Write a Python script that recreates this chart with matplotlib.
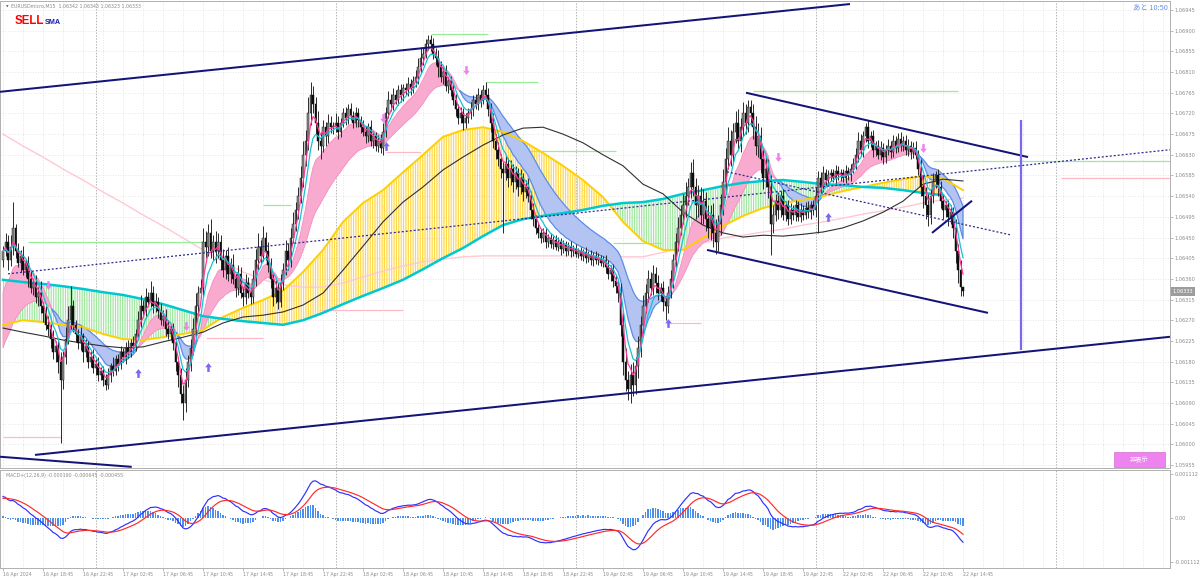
import numpy as np
import matplotlib
matplotlib.use("Agg")
import matplotlib.pyplot as plt
import matplotlib.transforms as mtransforms
from matplotlib.patches import Rectangle

plt.rcParams['hatch.linewidth'] = 0.9

# ---------------- data (prices in points: price = BASE + pts * 1e-5) ----------------
BASE = 1.06
PT = 1e-5

CLOSE_PTS = [
    420, 440, 400, 430, 470, 420, 395, 410, 380, 395, 360, 340, 350, 320, 330, 300, 285, 260, 250, 230,
    200, 215, 180, 140, 190, 230, 270, 300, 260, 240, 220, 235, 200, 215, 180, 190, 165, 175, 150, 160,
    140, 130, 150, 170, 160, 185, 175, 200, 190, 210, 200, 220, 215, 240, 270, 300, 290, 320, 310, 330,
    300, 310, 290, 270, 280, 250, 240, 250, 220, 180, 150, 110, 90, 140, 180, 210, 250, 300, 330, 340,
    440, 430, 460, 420, 440, 420, 440, 400, 380, 410, 370, 390, 360, 340, 370, 330, 320, 350, 330, 320,
    360, 400, 430, 410, 450, 420, 390, 360, 320, 340, 310, 350, 380, 420, 400, 450, 480, 510, 540, 580,
    630, 660, 720, 760, 740, 700, 660, 650, 690, 670, 700, 690, 690, 700, 680, 700, 720, 710, 730, 715,
    700, 720, 705, 690, 680, 670, 690, 660, 670, 650, 660, 645, 680, 720, 750, 740, 760, 750, 770, 760,
    775, 770, 785, 775, 790, 800, 820, 840, 850, 870, 880, 870, 850, 840, 820, 800, 810, 780, 790, 770,
    750, 730, 710, 720, 700, 710, 720, 730, 750, 740, 760, 750, 770, 760, 730, 700, 660, 640, 620, 600,
    590, 610, 580, 600, 570, 590, 560, 580, 550, 560, 540, 510, 490, 470, 460, 450, 460, 440, 450, 435,
    445, 430, 440, 425, 435, 420, 430, 420, 425, 415, 420, 410, 418, 405, 412, 400, 410, 400, 405, 395,
    400, 385, 370, 380, 355, 345, 330, 260, 180, 140, 120, 150, 130, 170, 210, 260, 300, 330, 360, 340,
    370, 350, 330, 340, 310, 300, 330, 360, 400, 440, 470, 500, 520, 540, 560, 590, 560, 520, 540, 500,
    530, 490, 470, 500, 460, 440, 480, 520, 570, 620, 660, 630, 680, 700, 660, 690, 720, 700, 735, 720,
    690, 650, 670, 620, 580, 600, 560, 480, 500, 530, 510, 540, 500, 520, 490, 510, 500, 520, 495, 510,
    500, 515, 505, 520, 510, 540, 580, 560, 590, 575, 585, 590, 580, 595, 585, 590, 580, 595, 585, 600,
    610, 630, 660, 640, 670, 690, 660, 670, 640, 650, 630, 645, 625, 640, 650, 635, 660, 645, 665, 650,
    660, 640, 650, 635, 645, 630, 600, 560, 540, 520, 500, 540, 570, 585, 560, 530, 510, 520, 495, 505,
    470, 420, 380, 342, 333]
OPEN0_PTS = 400

UP_WICK = [
    12, 20, 15, 25, 57, 10, 18, 12, 22, 8, 15, 20, 10, 18, 12, 25, 10, 15, 20, 12,
    18, 10, 15, 20, 12, 25, 30, 45, 15, 10, 12, 20, 8, 15, 10, 12, 18, 10, 15, 8,
    10, 12, 15, 8, 20, 10, 12, 15, 10, 12, 18, 10, 15, 12, 20, 25, 15, 20, 12, 25,
    15, 20, 10, 18, 12, 15, 20, 10, 15, 12, 10, 15, 20, 25, 15, 20, 25, 30, 15, 20,
    30, 25, 20, 30, 15, 25, 20, 15, 25, 12, 20, 15, 25, 10, 20, 15, 12, 20, 15, 10,
    20, 25, 30, 15, 25, 12, 20, 15, 10, 18, 12, 20, 15, 25, 18, 20, 25, 18, 20, 25,
    30, 25, 35, 28, 20, 15, 25, 20, 15, 12, 18, 15, 12, 20, 15, 10, 12, 15, 10, 12,
    10, 15, 12, 10, 15, 12, 10, 15, 12, 10, 12, 15, 20, 15, 18, 12, 15, 10, 12, 15,
    10, 12, 15, 10, 12, 15, 20, 25, 15, 12, 10, 11, 15, 12, 18, 15, 12, 15, 10, 12,
    15, 12, 10, 15, 12, 10, 12, 15, 10, 12, 15, 10, 12, 18, 15, 12, 20, 15, 18, 12,
    15, 20, 12, 18, 10, 15, 12, 18, 10, 15, 20, 12, 15, 10, 12, 8, 10, 12, 8, 10,
    8, 10, 12, 8, 10, 8, 10, 12, 8, 10, 8, 10, 8, 12, 8, 10, 8, 10, 12, 8,
    10, 12, 15, 10, 12, 15, 10, 20, 25, 30, 20, 25, 30, 20, 25, 20, 25, 18, 20, 15,
    20, 15, 18, 12, 15, 10, 15, 20, 15, 20, 25, 20, 25, 30, 20, 25, 30, 20, 25, 20,
    25, 20, 30, 20, 25, 30, 20, 25, 30, 25, 30, 25, 20, 25, 30, 20, 25, 20, 14, 15,
    20, 25, 30, 20, 25, 30, 20, 25, 20, 15, 20, 12, 15, 10, 12, 15, 10, 12, 10, 15,
    10, 12, 15, 10, 12, 20, 15, 12, 15, 10, 12, 10, 8, 12, 10, 8, 10, 12, 8, 10,
    12, 15, 20, 15, 12, 9, 15, 12, 15, 10, 12, 15, 10, 12, 15, 10, 12, 10, 12, 15,
    10, 12, 15, 10, 12, 15, 10, 20, 25, 20, 25, 15, 20, 10, 15, 12, 15, 10, 12, 15,
    12, 20, 15, 20, 1]

DN_WICK = [
    15, 10, 20, 12, 18, 15, 10, 20, 12, 15, 18, 10, 15, 12, 20, 15, 18, 12, 15, 20,
    15, 20, 25, 137, 20, 15, 12, 20, 15, 18, 12, 15, 20, 10, 15, 12, 10, 15, 12, 10,
    12, 12, 10, 15, 12, 10, 15, 12, 10, 15, 12, 10, 15, 12, 10, 15, 12, 15, 10, 12,
    15, 12, 15, 10, 12, 15, 10, 12, 15, 20, 25, 20, 37, 20, 15, 20, 15, 20, 15, 12,
    20, 25, 20, 15, 20, 25, 15, 20, 15, 20, 15, 20, 12, 20, 15, 12, 20, 15, 12, 15,
    12, 15, 20, 15, 12, 20, 15, 20, 18, 12, 15, 12, 15, 12, 20, 15, 12, 15, 20, 15,
    20, 25, 20, 25, 20, 25, 20, 30, 15, 20, 15, 12, 15, 10, 15, 12, 10, 15, 12, 10,
    12, 10, 15, 12, 10, 15, 12, 10, 15, 12, 14, 12, 15, 12, 10, 15, 12, 10, 12, 15,
    12, 10, 12, 15, 10, 12, 15, 12, 15, 10, 12, 15, 12, 15, 20, 12, 15, 12, 15, 12,
    12, 15, 12, 10, 15, 12, 10, 12, 15, 10, 12, 15, 10, 12, 15, 20, 15, 20, 15, 20,
    130, 15, 20, 15, 20, 15, 20, 15, 20, 15, 12, 20, 15, 12, 10, 12, 10, 12, 10, 8,
    10, 8, 10, 12, 8, 10, 8, 12, 10, 8, 10, 8, 12, 10, 8, 10, 12, 8, 10, 8,
    10, 12, 10, 15, 12, 15, 20, 25, 30, 25, 24, 30, 25, 20, 25, 20, 18, 15, 20, 15,
    15, 20, 15, 18, 20, 29, 15, 12, 20, 15, 20, 15, 20, 25, 20, 25, 20, 30, 25, 20,
    20, 25, 20, 25, 30, 25, 20, 25, 20, 25, 20, 25, 20, 25, 20, 25, 20, 25, 20, 25,
    25, 20, 25, 30, 25, 20, 25, 68, 20, 15, 20, 15, 12, 15, 12, 10, 12, 15, 10, 12,
    12, 10, 12, 15, 12, 15, 80, 12, 10, 12, 10, 12, 10, 12, 10, 12, 10, 12, 10, 12,
    10, 12, 15, 12, 15, 12, 15, 12, 15, 12, 10, 12, 15, 12, 10, 12, 10, 12, 10, 12,
    12, 10, 12, 15, 12, 10, 15, 20, 25, 30, 25, 20, 15, 12, 20, 15, 20, 15, 20, 15,
    20, 25, 30, 20, 10]

# slow moving averages every 8 bars
SAMPLE_BARS = list(range(0, 385, 8))
YELLOW_PTS = [260, 270, 266, 260, 255, 240, 229, 227, 233, 240, 249, 277, 297, 314, 334, 375, 423, 484,
              525, 553, 592, 630, 669, 684, 690, 680, 660, 634, 606, 575, 538, 484, 442, 423, 423, 449,
              475, 497, 514, 525, 532, 540, 551, 560, 569, 577, 584, 579, 553]
CYAN_PTS = [358, 353, 349, 344, 338, 331, 325, 316, 305, 292, 279, 273, 268, 264, 260, 270, 286, 305,
            323, 340, 358, 381, 405, 427, 453, 477, 490, 497, 503, 510, 519, 525, 527, 534, 545, 553,
            562, 569, 573, 575, 571, 566, 564, 560, 558, 553, 547, 542, np.nan]
BLACK_PTS = [253, 244, 236, 227, 220, 214, 210, 212, 223, 233, 244, 264, 277, 281, 288, 303, 329, 379,
             431, 484, 527, 560, 597, 625, 651, 673, 688, 690, 675, 656, 630, 606, 566, 545, 505, 477,
             460, 451, 455, 453, 457, 462, 471, 486, 505, 529, 566, 577, 573]
LONG_PTS = [675, 649, 625, 599, 575, 549, 525, 499, 475, 449, 423, 397, 375, 358, 347, 342, 342, 351,
            364, 377, 388, 397, 403, 408, 410, 410, 410, 410, 410, 410, 410, 408, 408, 418, 427, 438,
            449, 455, 462, 468, 477, 484, 492, 501, 508, 516, 525, 532, 536]

RIBBON_SEED_PTS = (330, 210)
MACD_SEED = (0.00055, 0.00050)

# drawn objects: (bar, pts)
CH_UP_UPPER = [(-1.2, 767), (338.8, 958)]
CH_UP_LOWER = [(12.8, -23), (466.8, 234)]
CH_UP_MID = [(2.0, 371), (466.8, 641)]
OLD_LINE = [(-1.2, -27), (51.5, -49)]
CH_DN_UPPER = [(297.2, 765), (410.0, 625)]
CH_DN_LOWER = [(281.6, 423), (394.0, 286)]
CH_DN_MID = [(289.6, 593), (402.8, 456)]
SMALL_LINE = [(371.6, 460), (387.6, 530)]
VLINE = (407, 205, 706)

GREEN_SEGS = [(10, 82, 440), (104, 115, 521), (171, 194, 893), (193, 214, 789),
              (206, 245, 638), (244, 263, 438), (300, 382, 769), (372, 467, 617)]
PINK_SEGS = [(0, 23, 16), (81, 104, 231), (127, 160, 292), (153, 167, 636),
             (266, 279, 264), (423, 467, 580)]

UP_ARROWS = [(54, 155), (82, 168), (153, 649), (266, 264), (330, 495)]
DN_ARROWS = [(18, 347), (73, 258), (152, 710), (185, 815), (310, 625), (368, 645)]

XLABEL_BARS = list(range(0, 385, 16))
XLABELS = ["16 Apr 2024", "16 Apr 18:45", "16 Apr 22:45", "17 Apr 02:45", "17 Apr 06:45",
           "17 Apr 10:45", "17 Apr 14:45", "17 Apr 18:45", "17 Apr 22:45", "18 Apr 02:45",
           "18 Apr 06:45", "18 Apr 10:45", "18 Apr 14:45", "18 Apr 18:45", "18 Apr 22:45",
           "19 Apr 02:45", "19 Apr 06:45", "19 Apr 10:45", "19 Apr 14:45", "19 Apr 18:45",
           "19 Apr 22:45", "22 Apr 02:45", "22 Apr 06:45", "22 Apr 10:45", "22 Apr 14:45"]
DAY_SEP_BARS = [37, 133, 229, 325, 421]
PRICE_TICKS = [1.06945, 1.06900, 1.06855, 1.06810, 1.06765, 1.06720, 1.06675, 1.06630, 1.06585,
               1.06540, 1.06495, 1.06450, 1.06405, 1.06360, 1.06315, 1.06270, 1.06225, 1.06180,
               1.06135, 1.06090, 1.06045, 1.06000, 1.05955]
MACD_TICKS = [0.001112, 0.0, -0.001112]
MACD_TICKLABELS = ["0.001112", "0.00", "-0.001112"]

HEADER = "EURUSDmicro,M15  1.06342 1.06343 1.06323 1.06333"
MACD_HEADER = "MACD+(12,26,9) -0.000190 -0.000645 -0.000455"
LAST_PRICE = "1.06333"

# ---------------- helpers ----------------
def P(v):
    return BASE + np.asarray(v, dtype=float) * PT

def ema(values, period, seed):
    a = 2.0 / (period + 1)
    out = np.empty(len(values))
    e = seed
    for i, v in enumerate(values):
        if i > 0:
            e = e + a * (v - e)
        out[i] = e
    return out

W, H = 1200, 578
def rect(x0, y0, x1, y1):
    return [x0 / W, 1 - y1 / H, (x1 - x0) / W, (y1 - y0) / H]

GRID = '#dedede'
TXT = '#8a8a8a'

fig = plt.figure(figsize=(12, 5.78), dpi=100, facecolor='white')
ax = fig.add_axes(rect(0, 1, 1170, 468))
axm = fig.add_axes(rect(0, 470, 1170, 568), sharex=ax)

c = P(CLOSE_PTS)
o = np.empty_like(c)
o[0] = P(OPEN0_PTS)
o[1:] = c[:-1]
hi = np.maximum(o, c) + np.array(UP_WICK) * PT
lo = np.minimum(o, c) - np.array(DN_WICK) * PT
bars = np.arange(len(c))
bull = c >= o

# ---------------- main panel ----------------
sx = np.array(SAMPLE_BARS)
yel = P(YELLOW_PTS)
cya = P(CYAN_PTS)
blk = P(BLACK_PTS)
lng = P(LONG_PTS)

ax.fill_between(sx, yel, cya, where=yel >= cya, interpolate=True, facecolor='none',
                edgecolor='#FFD84A', hatch='|' * 7, lw=0, zorder=1)
ax.fill_between(sx, yel, cya, where=yel < cya, interpolate=True, facecolor='none',
                edgecolor='#A2E6A2', hatch='|' * 7, lw=0, zorder=1)
ax.plot(sx, lng, color='#FFC8D2', lw=1.0, zorder=2)

rf = ema(c, 12, P(RIBBON_SEED_PTS[0]))
rs = ema(c, 30, P(RIBBON_SEED_PTS[1]))
ax.fill_between(bars, rf, rs, where=rf >= rs, interpolate=True, facecolor='#F9AACF',
                edgecolor='#F48DC0', lw=0.6, zorder=2.5)
ax.fill_between(bars, rf, rs, where=rf < rs, interpolate=True, facecolor='#B3C3F2',
                edgecolor='#5B8DE8', lw=0.9, zorder=2.5)

ax.plot(sx, yel, color='#FFD000', lw=1.4, zorder=3)
ax.plot(sx, cya, color='#00C8D0', lw=1.8, zorder=3)
ax.plot(sx, blk, color='#303030', lw=0.8, zorder=3)

# candles
ax.vlines(bars, lo, hi, color='#2a2a2a', lw=0.7, zorder=4)
bh = np.maximum(np.abs(c - o), 2 * PT)
bb = np.minimum(o, c)
ax.bar(bars[bull], bh[bull], bottom=bb[bull], width=0.74, color='#8e8e8e',
       edgecolor='#1a1a1a', lw=0.35, zorder=5)
ax.bar(bars[~bull], bh[~bull], bottom=bb[~bull], width=0.74, color='#0d0d0d',
       edgecolor='#0d0d0d', lw=0.35, zorder=5)

# fast lines
ax.plot(bars, ema(c, 4, c[0]), color='#FF3C9A', lw=0.9, zorder=7)
ax.plot(bars, ema(c, 7, c[0]), color='#16C2D4', lw=0.9, zorder=7)

# trendlines
def tl(seg, **kw):
    (b0, p0), (b1, p1) = seg
    ax.plot([b0, b1], [P(p0), P(p1)], solid_capstyle='butt', **kw)

navy = dict(color='#141478', lw=1.45, zorder=8)
for seg in (CH_UP_UPPER, CH_UP_LOWER, OLD_LINE, CH_DN_UPPER, CH_DN_LOWER, SMALL_LINE):
    tl(seg, **navy)
for seg in (CH_UP_MID, CH_DN_MID):
    tl(seg, color='#2c2c90', lw=0.9, ls=(0, (1.6, 1.6)), zorder=8)
ax.vlines(VLINE[0], P(VLINE[1]), P(VLINE[2]), color='#7B68EE', lw=1.6, zorder=8)

for b0, b1, p in GREEN_SEGS:
    ax.hlines(P(p), b0, b1, color='#98EE98', lw=0.9, zorder=2)
for b0, b1, p in PINK_SEGS:
    ax.hlines(P(p), b0, b1, color='#FFB8C6', lw=0.9, zorder=2)

up_marker = [(-0.28, -1), (0.28, -1), (0.28, 0.05), (0.75, 0.05), (0, 1), (-0.75, 0.05), (-0.28, 0.05)]
dn_marker = [(x, -y) for x, y in up_marker]
ax.scatter([b for b, _ in UP_ARROWS], [P(p) for _, p in UP_ARROWS], marker=up_marker,
           s=40, color='#7B68EE', linewidths=0, zorder=9)
ax.scatter([b for b, _ in DN_ARROWS], [P(p) for _, p in DN_ARROWS], marker=dn_marker,
           s=40, color='#EE82EE', linewidths=0, zorder=9)

# axes styling
ax.set_xlim(-1.2, 466.8)
ax.set_ylim(1.059485, 1.069646)
ax.yaxis.tick_right()
ax.set_yticks(PRICE_TICKS)
ax.set_yticklabels([f"{p:.5f}" for p in PRICE_TICKS])
ax.tick_params(axis='y', length=2, width=0.5, color='#a0a0a0', pad=1.5,
               labelsize=3.6, labelcolor=TXT)
ax.tick_params(axis='x', which='both', bottom=False, labelbottom=False)
ax.grid(axis='y', color=GRID, ls=(0, (1, 2)), lw=0.6)

axm.set_xticks(XLABEL_BARS)
axm.set_xticklabels(XLABELS)
axm.set_xticks(list(range(0, 467, 8)), minor=True)
for a in (ax, axm):
    a.grid(axis='x', which='both', color=GRID, ls=(0, (1, 2)), lw=0.6)
    for b in DAY_SEP_BARS:
        a.axvline(b, color='#b4b4b4', ls=(0, (1.5, 1.5)), lw=0.7, zorder=0.5)
    for s in a.spines.values():
        s.set_color('#b0b0b0')
        s.set_linewidth(0.7)
    a.set_axisbelow(True)

# ---------------- MACD panel ----------------
e12 = ema(c, 12, c[0])
e26 = ema(c, 26, c[0] - MACD_SEED[0])
macd = e12 - e26
sig = ema(macd, 9, MACD_SEED[1])
hist = macd - sig
axm.bar(bars, hist, width=0.5, color='#4C8FEA', zorder=2)
axm.plot(bars, macd, color='#3030FF', lw=0.85, zorder=3)
axm.plot(bars, sig, color='#FF2A2A', lw=0.85, zorder=3)
axm.set_ylim(-0.001278, 0.001227)
axm.yaxis.tick_right()
axm.set_yticks(MACD_TICKS)
axm.set_yticklabels(MACD_TICKLABELS)
axm.tick_params(axis='y', length=2, width=0.5, color='#a0a0a0', pad=1.5,
                labelsize=3.6, labelcolor=TXT)
axm.tick_params(axis='x', which='major', length=2, width=0.5, color='#a0a0a0', pad=1.2,
                labelsize=3.3, labelcolor=TXT)
axm.tick_params(axis='x', which='minor', length=0)
for lbl in axm.get_xticklabels():
    lbl.set_horizontalalignment('left')

# ---------------- texts ----------------
fig.text(5.5 / W, 1 - 6.5 / H, "\u25BC", fontsize=2.4, color='#606060', va='center')
fig.text(11 / W, 1 - 6.5 / H, HEADER, fontsize=3.4, color=TXT, va='center')
fig.text(15 / W, 1 - 21.5 / H, "SELL", fontsize=8.3, color='#FF0000', weight='bold',
         family='Liberation Sans', va='center')
fig.text(44.5 / W, 1 - 22.5 / H, "SMA", fontsize=5.2, color='#1A1AB0', weight='bold',
         family='Liberation Sans', va='center')
fig.text(1168 / W, 1 - 8 / H, "あと 10:50", fontsize=5.3, color='#6A8FE8', ha='right',
         va='center', family=['Noto Sans CJK JP', 'DejaVu Sans'])
fig.text(6 / W, 1 - 475.5 / H, MACD_HEADER, fontsize=3.4, color=TXT, va='center')

trans = mtransforms.blended_transform_factory(ax.transAxes, ax.transData)
ax.text(1.0 + 2.5 / 1170, c[-1], LAST_PRICE, transform=trans, fontsize=3.6, color='white',
        va='center', ha='left', zorder=10, clip_on=False,
        bbox=dict(boxstyle='square,pad=0.35', fc='#9c9c9c', ec='none'))

fig.add_artist(Rectangle((1114 / W, 1 - 467 / H), 51 / W, 15 / H, transform=fig.transFigure,
                         facecolor='#EE82EE', edgecolor='#d070d0', lw=0.5, zorder=20))
fig.text(1139.5 / W, 1 - 459.5 / H, "非表示", fontsize=4.5, color='white', ha='center',
         va='center', family=['Noto Sans CJK JP', 'DejaVu Sans'], zorder=21)

fig.savefig("out.png", dpi=100, facecolor='white')
